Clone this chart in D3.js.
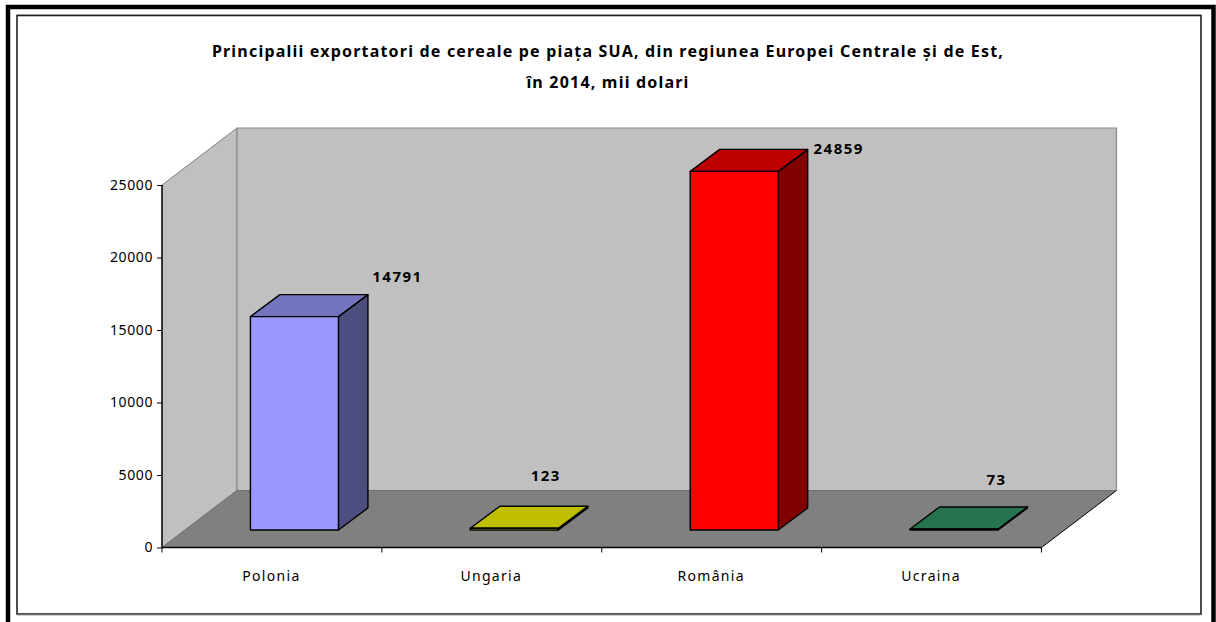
<!DOCTYPE html>
<html><head><meta charset="utf-8">
<script src="https://cdn.jsdelivr.net/npm/d3@7/dist/d3.min.js"></script>
<style>html,body{margin:0;padding:0;background:#fff;overflow:hidden}svg{display:block}
text{font-family:"Noto Sans",sans-serif;fill:#000}</style></head>
<body><svg id="c" width="1216" height="622"></svg>
<script>
const categories = ["Polonia","Ungaria","România","Ucraina"];
const values = [14791,123,24859,73];
const frontColors = ["#9999FF","#FFFF00","#FF0000","#339966"];
const topColors = ["#7373BF","#BFBF00","#BF0000","#267350"];
const sideColors = ["#4D4D80","#808000","#800000","#1A4D33"];
const yTicks = [0,5000,10000,15000,20000,25000];
const titleLines = ["Principalii exportatori de cereale pe piața SUA, din regiunea Europei Centrale și de Est,","în 2014, mii dolari"];

const svg = d3.select("#c");
const x = d3.scaleBand().domain(categories).range([162,1041.5]);
const y = d3.scaleLinear().domain([0,25000]).range([547.5,185]);
const yBar = d3.scaleLinear().domain([0,25000]).range([530,169.3]);
const depthX = 75, depthY = 57;
const barW = 88, barDX = 29.5, barDY = 22, offX = 22.5;
const poly = p => p.map(d=>d.join(",")).join(" ");

svg.append("path").attr("d","M8 622V7H1213.5V622").attr("fill","none").attr("stroke","#000").attr("stroke-width",4.5);
svg.append("rect").attr("x",17).attr("y",15.5).attr("width",1184).attr("height",598.5)
  .attr("fill","#fff").attr("stroke","#222").attr("stroke-width",1.6);
svg.append("path").attr("d","M17 14.5H1201M17 615H1201").attr("stroke","#999").attr("stroke-width",1);

const x0=x.range()[0], x1=x.range()[1], y0=y(0), yT=y(25000);
svg.append("polygon").attr("points",poly([[x0,yT],[x0+depthX,yT-depthY],[x0+depthX,y0-depthY],[x0,y0]]))
  .attr("fill","#C0C0C0").attr("stroke","#808080");
svg.append("polygon").attr("points",poly([[x0+depthX,yT-depthY],[x1+depthX,yT-depthY],[x1+depthX,y0-depthY],[x0+depthX,y0-depthY]]))
  .attr("fill","#C0C0C0").attr("stroke","#8c8c8c").attr("stroke-width",1.2);
svg.append("polygon").attr("points",poly([[x0,y0],[x0+depthX,y0-depthY],[x1+depthX,y0-depthY],[x1,y0]]))
  .attr("fill","#808080");
svg.append("line").attr("x1",x0).attr("y1",y0).attr("x2",x0+depthX).attr("y2",y0-depthY).attr("stroke","#707070");
svg.append("line").attr("x1",x1).attr("y1",y0).attr("x2",x1+depthX).attr("y2",y0-depthY).attr("stroke","#000");
svg.append("line").attr("x1",x0+depthX).attr("y1",y0-depthY).attr("x2",x1+depthX).attr("y2",y0-depthY).attr("stroke","#6e6e6e");

const g = svg.append("g").attr("stroke","#000").attr("stroke-width",1.4).attr("stroke-linejoin","round");
categories.forEach((c,i)=>{
  const L = x(c)+x.bandwidth()/2+offX-barW/2, R = L+barW;
  const B = yBar(0), T = yBar(values[i]), H = B-T;
  g.append("polygon").attr("points",poly([[R,B],[R+barDX,B-barDY],[R+barDX,T-barDY],[R,T]])).attr("fill",sideColors[i]);
  g.append("polygon").attr("points",poly([[L,T],[L+barDX,T-barDY],[R+barDX,T-barDY],[R,T]])).attr("fill",topColors[i]);
  g.append("rect").attr("x",L).attr("y",T).attr("width",barW).attr("height",H).attr("fill",frontColors[i]);
});

const ya = svg.append("g").attr("transform",`translate(${x0},0)`)
  .call(d3.axisLeft(y).tickValues(yTicks).tickSize(5).tickPadding(4).tickFormat(d3.format("d")));
const xa = svg.append("g").attr("transform",`translate(0,${y0})`)
  .call(d3.axisBottom(x).tickSize(0).tickPadding(24));
ya.select(".domain").attr("stroke","#000").attr("stroke-width",1.4).attr("d",`M0 ${yT}V${y0}`);
xa.select(".domain").attr("stroke","#000").attr("stroke-width",1.6).attr("d",`M${x0} 0H${x1}`);
xa.selectAll(".sep").data([0,1,2,3,4]).join("line").attr("class","sep")
  .attr("x1",i=>x0+x.step()*i).attr("x2",i=>x0+x.step()*i).attr("y1",0).attr("y2",5).attr("stroke","#000");
svg.selectAll(".tick text").attr("font-family",'"Noto Sans"').attr("font-size",14).attr("fill","#000");
ya.selectAll(".tick text").attr("letter-spacing",0.6);
xa.selectAll(".tick text").attr("letter-spacing",1.3).attr("dx",-0.5);
ya.selectAll(".tick line").attr("stroke","#000");

const labelDX=[125.5,54,127,65], labelDY=[51,65,33,61];
svg.selectAll(".val").data(values).join("text").attr("class","val")
  .attr("x",(d,i)=>x(categories[i])+x.bandwidth()/2+labelDX[i])
  .attr("y",(d,i)=>y(d)-labelDY[i])
  .attr("text-anchor","middle").attr("font-size",15).attr("font-weight","bold").attr("letter-spacing",1.5).text(d=>d);

svg.selectAll(".title").data(titleLines).join("text").attr("class","title")
  .attr("x",608).attr("y",(d,i)=>57+i*31).attr("text-anchor","middle")
  .attr("font-size",16).attr("font-weight","bold").attr("letter-spacing",1.2).text(d=>d);
</script></body></html>
